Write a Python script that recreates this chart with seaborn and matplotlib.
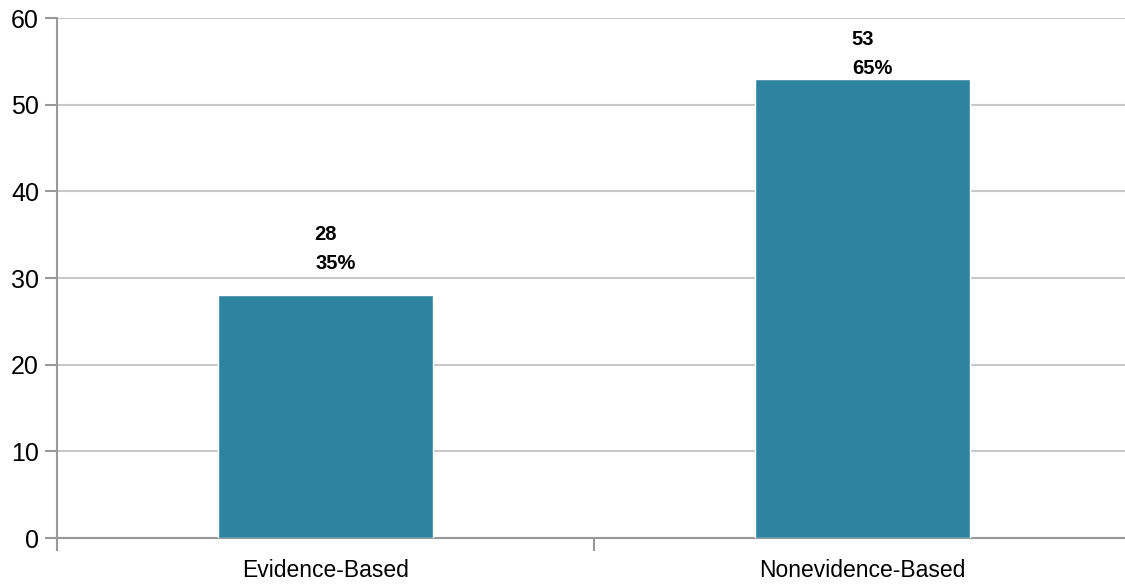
import matplotlib
matplotlib.use("Agg")
import matplotlib.pyplot as plt
import seaborn as sns
import pandas as pd

categories = ["Evidence-Based", "Nonevidence-Based"]
counts = [28, 53]
percents = ["35%", "65%"]
yticks = [0, 10, 20, 30, 40, 50, 60]

sns.set_theme(style="white")
plt.rcParams['font.family'] = ['Liberation Sans Narrow', 'Liberation Sans', 'DejaVu Sans']

df = pd.DataFrame({"category": categories, "count": counts})

fig = plt.figure(figsize=(11.25, 5.84), dpi=100)
ax = fig.add_axes([57/1125, 1-538/584, 1074/1125, (538-18)/584])

sns.barplot(data=df, x="category", y="count", color="#2E83A0", width=0.40,
            saturation=1, ax=ax, zorder=3)

ax.set_ylim(0, 60)
ax.set_xlim(-0.5, 1.5)
ax.set_yticks(yticks)
ax.yaxis.grid(True, color="#C8C8C8", linewidth=1.5, zorder=0)
ax.set_axisbelow(True)
ax.set_xlabel("")
ax.set_ylabel("")

for s in ["top", "right"]:
    ax.spines[s].set_visible(False)
for s in ["left", "bottom"]:
    ax.spines[s].set_color("#999999")
    ax.spines[s].set_linewidth(1.5)

ax.tick_params(axis="y", which="major", length=9, width=1.5, color="#999999",
               labelsize=18, labelcolor="black", pad=4, left=True, direction="out")
ax.tick_params(axis="x", which="major", length=0, labelsize=16.5, labelcolor="black", pad=15)
ax.set_xticks([-0.5, 0.5, 1.5], minor=True)
ax.tick_params(axis="x", which="minor", length=9, width=1.5, color="#999999",
               direction="out", bottom=True)

label_cap = 58.6
for i, (c, p) in enumerate(zip(counts, percents)):
    top = min(c + 8.1, label_cap)
    ax.annotate(str(c), (i, top), xytext=(0, 0), textcoords="offset points",
                ha="center", va="top", fontsize=14.5, fontweight="bold", color="black")
    ax.annotate(p, (i, top), xytext=(7, -21), textcoords="offset points",
                ha="center", va="top", fontsize=14.5, fontweight="bold", color="black")

fig.savefig("out.png", dpi=100)
